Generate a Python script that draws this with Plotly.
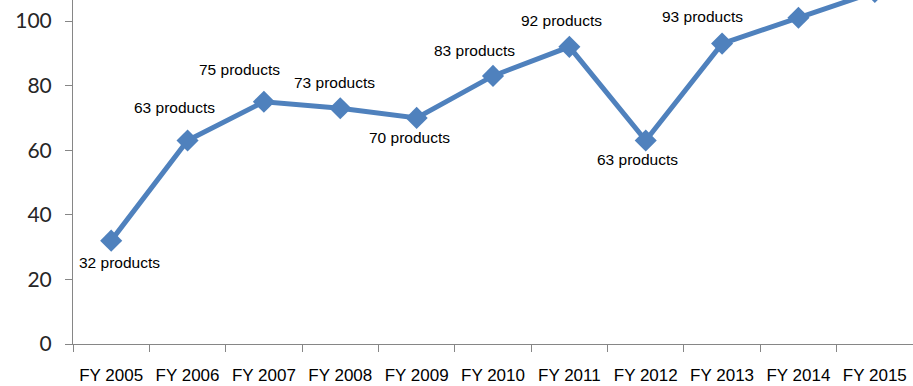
import plotly.graph_objects as go

years = ["FY 2005", "FY 2006", "FY 2007", "FY 2008", "FY 2009", "FY 2010",
         "FY 2011", "FY 2012", "FY 2013", "FY 2014", "FY 2015"]
products = [32, 63, 75, 73, 70, 83, 92, 63, 93, 101, 109]
# label offsets (px) relative to each point; None = no label drawn
label_dx = [8, -13, -24, -6, -7, -19, -8, -8, -20, None, None]
label_dy = [22, -33, -32, -26, 20, -25, -26, 19, -27, None, None]

LINE = "#4F81BD"
AXIS = "#868686"

fig = go.Figure()
fig.add_trace(go.Scatter(
    x=years, y=products, mode="lines+markers",
    line=dict(color=LINE, width=5),
    marker=dict(symbol="diamond", size=17, color=LINE),
    cliponaxis=True, hoverinfo="skip", showlegend=False,
))

for yr, v, dx, dy in zip(years, products, label_dx, label_dy):
    if dx is None:
        continue
    fig.add_annotation(
        x=yr, y=v, text=f"{v} products", showarrow=False,
        xanchor="center", yanchor="middle", xshift=dx, yshift=-dy,
        font=dict(family="Liberation Sans, Arial, sans-serif", size=15.5, color="#000000"),
    )

fig.update_layout(
    width=913, height=386,
    margin=dict(l=73, r=0, t=0, b=42),
    paper_bgcolor="white", plot_bgcolor="white",
)
fig.update_xaxes(
    type="category", range=[-0.5, 10.5],
    showline=True, linecolor=AXIS, linewidth=1,
    ticks="outside", ticklen=7, tickcolor=AXIS, tickwidth=1,
    tickson="boundaries", showgrid=False, zeroline=False,
    tickfont=dict(family="Liberation Sans, Arial, sans-serif", size=17, color="#000000"),
    ticklabelstandoff=16,
)
fig.update_yaxes(
    range=[0, 106.5], tickvals=[0, 20, 40, 60, 80, 100],
    showline=True, linecolor=AXIS, linewidth=1,
    ticks="outside", ticklen=7, tickcolor=AXIS, tickwidth=1,
    showgrid=False, zeroline=False,
    tickfont=dict(family="Lato, Carlito, sans-serif", size=21, color="#262626"),
    ticklabelstandoff=9,
)

fig.write_html("out.html")
